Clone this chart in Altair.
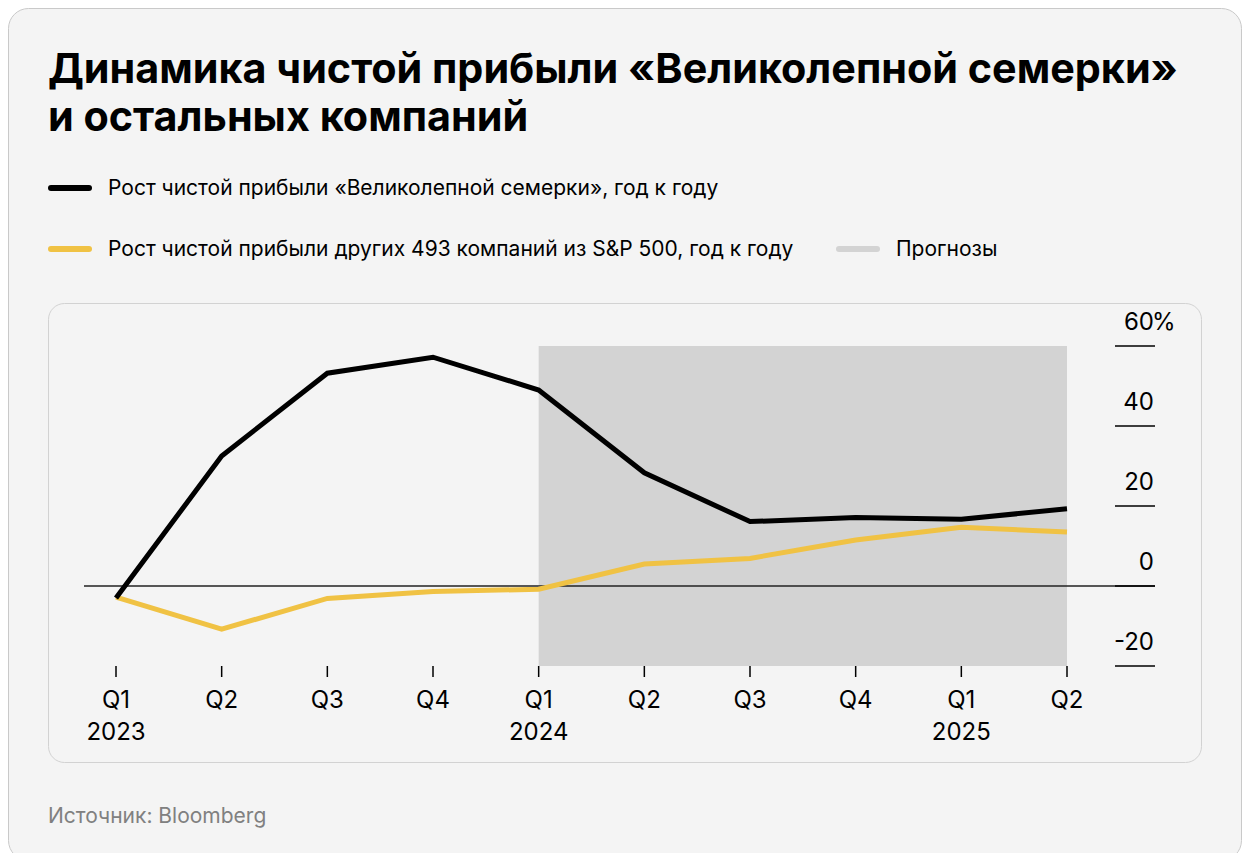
import altair as alt
import pandas as pd

# ---------------- data ----------------
quarters = ["Q1", "Q2", "Q3", "Q4", "Q1", "Q2", "Q3", "Q4", "Q1", "Q2"]
years = ["2023", "", "", "", "2024", "", "", "", "2025", ""]
mag7 = [-3.0, 32.5, 53.2, 57.2, 49.0, 28.3, 16.1, 17.1, 16.7, 19.3]
others = [-2.8, -10.8, -3.1, -1.4, -0.8, 5.5, 6.9, 11.5, 14.7, 13.5]
y_ticks = [60, 40, 20, 0, -20]
y_labels = ["60", "40", "20", "0", "-20"]
forecast_start, forecast_end = 4, 9

title_lines = ["Динамика чистой прибыли «Великолепной семерки»", "и остальных компаний"]
legend_mag7 = "Рост чистой прибыли «Великолепной семерки», год к году"
legend_others = "Рост чистой прибыли других 493 компаний из S&P 500, год к году"
legend_fc = "Прогнозы"
source = "Источник: Bloomberg"

BLACK = "#000000"
YELLOW = "#f0c244"
GREY = "#d3d3d3"
BG = "#f4f4f4"
FONT = "Inter"

idx = list(range(len(quarters)))
df = pd.DataFrame({"i": idx, "q": quarters, "yr": years, "mag7": mag7, "others": others})
ticks_df = pd.DataFrame({"v": y_ticks, "lab": y_labels})
fc_df = pd.DataFrame({"a": [forecast_start], "b": [forecast_end], "top": [60], "bot": [-20]})
one = pd.DataFrame({"k": [0]})

# plot area origin on the page is (116, 346)
OX, OY = 116, 346
def px(x):
    return x - OX
def py(y):
    return y - OY

xs = alt.Scale(domain=[0, 9], nice=False, zero=False)
ys = alt.Scale(domain=[-20, 60], nice=False, zero=False)

# ---------- background cards ----------
outer = alt.Chart(one).mark_rect(fill=BG, stroke="#c9c9c9", strokeWidth=1, cornerRadius=20).encode(
    x=alt.value(px(8.5)), x2=alt.value(px(1241.5)), y=alt.value(py(8.5)), y2=alt.value(py(860.5)))
inner = alt.Chart(one).mark_rect(fill=BG, stroke="#d2d2d2", strokeWidth=1, cornerRadius=16).encode(
    x=alt.value(px(48.5)), x2=alt.value(px(1201.5)), y=alt.value(py(303.5)), y2=alt.value(py(762.5)))

# ---------- forecast region ----------
fc = alt.Chart(fc_df).mark_rect(color=GREY).encode(
    x=alt.X("a:Q", scale=xs, axis=None), x2="b:Q",
    y=alt.Y("top:Q", scale=ys, axis=None), y2="bot:Q")

# ---------- zero line ----------
zero = alt.Chart(pd.DataFrame({"v": [0]})).mark_rule(color="#222222", strokeWidth=1.3).encode(
    y=alt.Y("v:Q", scale=ys, axis=None), x=alt.value(px(84)), x2=alt.value(px(1155)))

# ---------- lines ----------
line_o = alt.Chart(df).mark_line(color=YELLOW, strokeWidth=5, strokeJoin="miter").encode(
    x=alt.X("i:Q", scale=xs, axis=None), y=alt.Y("others:Q", scale=ys, axis=None))
line_m = alt.Chart(df).mark_line(color=BLACK, strokeWidth=5, strokeJoin="miter").encode(
    x=alt.X("i:Q", scale=xs, axis=None), y=alt.Y("mag7:Q", scale=ys, axis=None))

# ---------- right y axis ----------
ytick = alt.Chart(ticks_df).mark_rule(color=BLACK, strokeWidth=1.5).encode(
    y=alt.Y("v:Q", scale=ys, axis=None), x=alt.value(px(1115)), x2=alt.value(px(1155)))
ylab = alt.Chart(ticks_df).mark_text(align="right", baseline="middle", dy=-23, fontSize=24,
                                     font=FONT, color=BLACK).encode(
    y=alt.Y("v:Q", scale=ys, axis=None), x=alt.value(px(1154)), text="lab:N")
ypct = alt.Chart(pd.DataFrame({"v": [60]})).mark_text(align="left", baseline="middle", dy=-23,
                                                      fontSize=24, font=FONT, color=BLACK).encode(
    y=alt.Y("v:Q", scale=ys, axis=None), x=alt.value(px(1152)), text=alt.value("%"))

# ---------- x axis ----------
xtick = alt.Chart(df).mark_rule(color=BLACK, strokeWidth=1.5).encode(
    x=alt.X("i:Q", scale=xs, axis=None), y=alt.value(py(666)), y2=alt.value(py(677)))
xq = alt.Chart(df).mark_text(align="center", baseline="middle", fontSize=24, font=FONT, color=BLACK).encode(
    x=alt.X("i:Q", scale=xs, axis=None), y=alt.value(py(701)), text="q:N")
xy = alt.Chart(df).mark_text(align="center", baseline="middle", fontSize=24, font=FONT, color=BLACK).encode(
    x=alt.X("i:Q", scale=xs, axis=None), y=alt.value(py(733)), text="yr:N")

# ---------- title ----------
t1 = alt.Chart(one).mark_text(align="left", baseline="alphabetic", fontSize=41.3, fontWeight="bold",
                              font=FONT, color=BLACK).encode(
    x=alt.value(px(48)), y=alt.value(py(83)), text=alt.value(title_lines[0]))
t2 = alt.Chart(one).mark_text(align="left", baseline="alphabetic", fontSize=41.3, fontWeight="bold",
                              font=FONT, color=BLACK).encode(
    x=alt.value(px(48)), y=alt.value(py(131)), text=alt.value(title_lines[1]))

# ---------- legend ----------
def swatch(x0, x1, y, color):
    return alt.Chart(one).mark_rule(color=color, strokeWidth=6, strokeCap="round").encode(
        x=alt.value(px(x0)), x2=alt.value(px(x1)), y=alt.value(py(y)))

def ltext(x, y, s, color=BLACK):
    return alt.Chart(one).mark_text(align="left", baseline="middle", fontSize=21, font=FONT,
                                    color=color).encode(
        x=alt.value(px(x)), y=alt.value(py(y)), text=alt.value(s))

leg = [
    swatch(51, 89, 188, BLACK), ltext(108, 189, legend_mag7),
    swatch(51, 89, 249, YELLOW), ltext(108, 250, legend_others),
    swatch(839, 877, 249, GREY), ltext(896, 250, legend_fc),
    ltext(48, 817, source, "#808080"),
]

chart = alt.layer(
    outer, inner, fc, zero, line_o, line_m, ytick, ylab, ypct, xtick, xq, xy, t1, t2, *leg
).properties(
    width=951, height=320,
    padding={"left": 108, "top": 338, "right": 175, "bottom": 187},
    autosize=alt.AutoSizeParams(type="none"),
    background="white",
).configure_view(stroke=None)

chart.save("out.html", embed_options={"renderer": "svg", "actions": False})
